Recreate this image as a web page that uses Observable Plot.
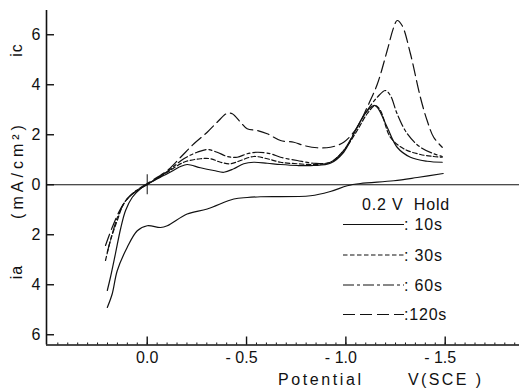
<!DOCTYPE html>
<html>
<head>
<meta charset="utf-8">
<script src="https://cdn.jsdelivr.net/npm/d3@7"></script>
<script src="https://cdn.jsdelivr.net/npm/@observablehq/plot@0.6"></script>
<style>
  html, body { margin: 0; padding: 0; background: #fff; }
</style>
</head>
<body>
<div id="chart"></div>
<script>
// ---- Data (potential V vs SCE, current density mA/cm2; cathodic ic > 0, anodic ia < 0) ----
const seriesNames = ["10s", "30s", "60s", "120s"];
const legendTitle = "0.2 V  Hold";

const v10 = [0.201,0.185,0.160,0.134,0.109,0.075,0.034,0.000,-0.017,-0.101,-0.168,-0.201,-0.268,-0.335,-0.386,-0.436,-0.486,-0.536,-0.604,-0.671,-0.755,-0.838,-0.922,-0.989,-1.040,-1.090,-1.140,-1.158,-1.208,-1.258,-1.325,-1.409,-1.485];
const i10 = [-4.23,-3.70,-2.76,-1.76,-1.03,-0.50,-0.16,0.01,0.10,0.44,0.73,0.81,0.68,0.57,0.50,0.64,0.84,0.90,0.86,0.81,0.77,0.77,0.86,1.30,2.04,2.77,3.17,3.10,2.30,1.50,1.10,0.94,0.90];

const v30 = [0.210,0.185,0.151,0.118,0.067,0.009,-0.101,-0.184,-0.268,-0.319,-0.369,-0.419,-0.470,-0.536,-0.604,-0.671,-0.755,-0.838,-0.922,-0.989,-1.057,-1.107,-1.149,-1.174,-1.224,-1.291,-1.375,-1.442,-1.485];
const i30 = [-3.03,-2.23,-1.43,-0.76,-0.30,-0.03,0.50,0.90,1.04,1.04,0.90,0.84,0.97,1.13,1.04,0.90,0.84,0.81,0.90,1.37,2.17,2.84,3.17,2.97,1.90,1.44,1.21,1.13,1.10];

const v60 = [0.201,0.176,0.143,0.101,0.050,0.009,-0.101,-0.184,-0.252,-0.302,-0.352,-0.403,-0.453,-0.503,-0.554,-0.621,-0.671,-0.755,-0.838,-0.922,-0.989,-1.057,-1.107,-1.158,-1.199,-1.224,-1.258,-1.309,-1.375,-1.442,-1.485];
const i60 = [-2.70,-1.96,-1.16,-0.56,-0.23,-0.03,0.53,1.04,1.30,1.41,1.30,1.13,1.10,1.24,1.30,1.24,1.10,0.97,0.86,0.90,1.37,2.30,2.97,3.50,3.77,3.57,2.84,2.04,1.50,1.24,1.13];

const v120 = [0.210,0.176,0.134,0.093,0.042,0.000,-0.101,-0.168,-0.235,-0.302,-0.352,-0.403,-0.428,-0.470,-0.503,-0.554,-0.604,-0.671,-0.738,-0.788,-0.856,-0.922,-0.989,-1.057,-1.107,-1.158,-1.208,-1.241,-1.258,-1.283,-1.325,-1.375,-1.409,-1.442,-1.485];
const i120 = [-2.43,-1.70,-0.96,-0.50,-0.16,0.05,0.57,1.10,1.64,2.10,2.50,2.86,2.84,2.50,2.24,2.17,2.04,1.77,1.70,1.57,1.48,1.50,1.70,2.30,3.10,4.02,5.37,6.30,6.57,6.37,5.24,3.50,2.57,1.90,1.50];

// anodic return sweep (solid)
const vRet = [0.201,0.176,0.151,0.101,0.050,0.000,-0.067,-0.101,-0.201,-0.302,-0.436,-0.503,-0.570,-0.822,-0.922,-1.007,-1.073,-1.241,-1.359,-1.490];
const iRet = [-4.91,-4.36,-3.44,-2.51,-1.84,-1.64,-1.71,-1.64,-1.17,-0.97,-0.57,-0.51,-0.48,-0.44,-0.27,-0.04,0.05,0.16,0.29,0.45];

const xTicks = [0, -0.5, -1.0, -1.5];
const yTicks = [-6, -4, -2, 0, 2, 4, 6];
const xMinor = d3.range(0.45, -1.86, -0.05);
const xDomain = [0.507, -1.874];
const yDomain = [-6.41, 6.97];
const zeroMarker = [{v: 0, top: 0.4, bottom: -0.4}];

// ---- Build tables ----
const toRows = (vs, is, s) => vs.map((v, k) => ({v, i: is[k], s}));
const rows = [
  ...toRows(v10, i10, "10s"),
  ...toRows(v30, i30, "30s"),
  ...toRows(v60, i60, "60s"),
  ...toRows(v120, i120, "120s")
];
const ret = toRows(vRet, iRet, "return");

const dashes = {"10s": null, "30s": "4.5,2.5", "60s": "11,3,3,3", "120s": "12,5"};
const lw = 1.2;

const lineMarks = seriesNames.map(s =>
  Plot.line(rows.filter(d => d.s === s), {
    x: "v", y: "i", stroke: "#111", strokeWidth: lw,
    strokeDasharray: dashes[s], curve: "catmull-rom"
  })
);

const chart = Plot.plot({
  width: 519,
  height: 388,
  marginLeft: 46,
  marginRight: 0,
  marginTop: 10,
  marginBottom: 43.5,
  style: {fontFamily: "Liberation Sans, Arial, sans-serif", fontSize: "16px", background: "#fff", color: "#111"},
  x: {domain: xDomain, label: null},
  y: {domain: yDomain, label: null},
  marks: [
    // axis lines and zero line
    Plot.ruleX([xDomain[0]], {stroke: "#111", strokeWidth: 1.6}),
    Plot.ruleY([yDomain[0]], {stroke: "#111", strokeWidth: 1.6}),
    Plot.ruleY([0], {stroke: "#111", strokeWidth: 1.1}),
    Plot.ruleX(zeroMarker, {x: "v", y1: "top", y2: "bottom", stroke: "#111", strokeWidth: 1}),
    // y ticks (inward) and labels
    Plot.axisY({ticks: yTicks, tickSize: 8, dx: 8, text: null, label: null, strokeWidth: 1.4}),
    Plot.axisY({ticks: yTicks, tickSize: 0, tickPadding: 6, tickFormat: d => String(Math.abs(d)), label: null, fontSize: 16}),
    // x ticks (inward), minor ticks and labels
    Plot.axisX({ticks: xTicks, tickSize: 8, dy: -8, text: null, label: null, strokeWidth: 1.4}),
    Plot.axisX({ticks: xMinor, tickSize: 2, dy: -2, text: null, label: null, strokeWidth: 1}),
    Plot.axisX({ticks: [0], tickSize: 0, tickPadding: 7, tickFormat: d => "0.0", label: null, fontSize: 16}),
    Plot.axisX({ticks: xTicks.filter(d => d < 0), tickSize: 0, tickPadding: 7, dx: -5,
      tickFormat: d => "- " + Math.abs(d).toFixed(1), label: null, fontSize: 16}),
    // curves
    ...lineMarks,
    Plot.line(ret, {x: "v", y: "i", stroke: "#111", strokeWidth: lw, curve: "catmull-rom"})
  ]
});

document.getElementById("chart").appendChild(chart);

// ---- Axis titles and legend (layout in pixels) ----
const svg = d3.select(chart);
const txt = (x, y, s, opts = {}) => {
  const t = svg.append("text")
    .attr("x", x).attr("y", y)
    .attr("fill", "#111")
    .attr("font-family", "Liberation Sans, Arial, sans-serif")
    .attr("font-size", opts.size || 16)
    .attr("letter-spacing", opts.ls || 0)
    .attr("text-anchor", opts.anchor || "start")
    .text(s);
  if (opts.rotate) t.attr("transform", `rotate(-90 ${x} ${y})`);
  if (opts.dy) t.attr("dy", opts.dy);
  return t;
};

txt(278, 385, "Potential", {ls: 2.6});
txt(408, 385, "V(SCE )", {ls: 2.4});

txt(22, 50, "ic", {rotate: true, anchor: "middle", ls: 1});
txt(23, 170, "(mA/cm²)", {rotate: true, anchor: "middle", ls: 4});
txt(22, 272, "ia", {rotate: true, anchor: "middle", ls: 1});

// legend
txt(362, 210, legendTitle, {ls: 0.8});
const legendY = [224.5, 255, 285, 314.5];
const legendLabels = [": 10s", ": 30s", ": 60s", ":120s"];
seriesNames.forEach((s, k) => {
  const ln = svg.append("line")
    .attr("x1", 343).attr("x2", 404)
    .attr("y1", legendY[k]).attr("y2", legendY[k])
    .attr("stroke", "#111").attr("stroke-width", lw);
  if (dashes[s]) ln.attr("stroke-dasharray", dashes[s]);
  txt(404, legendY[k], legendLabels[k], {dy: "0.36em", ls: 0.8});
});
</script>
</body>
</html>
